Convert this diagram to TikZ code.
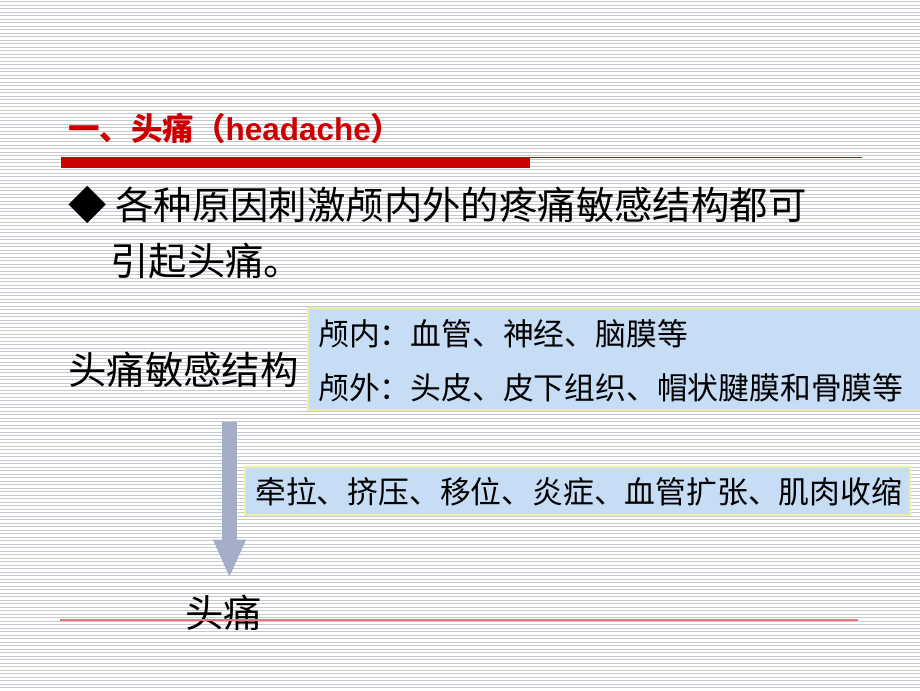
\documentclass[tikz,border=0pt]{standalone}
\usepackage{fontspec}
\setmainfont{Noto Sans CJK SC}
\newfontfamily\latinfont{Liberation Sans}
\usetikzlibrary{arrows.meta}
\definecolor{titlered}{RGB}{204,0,0}
\definecolor{stripegray}{RGB}{198,202,208}
\definecolor{boxblue}{RGB}{198,221,245}
\definecolor{boxedge}{RGB}{238,238,160}
\definecolor{arrowgray}{RGB}{164,174,200}
\definecolor{rulepink}{RGB}{228,120,120}
\newcommand{\bigtext}{\fontsize{28.8pt}{34pt}\selectfont}
\newcommand{\boxtext}{\fontsize{23.1pt}{28pt}\selectfont}

\begin{document}
\begin{tikzpicture}[x=0.75pt, y=-0.75pt,
  stripe/.style={stripegray, line width=0.6pt},
  txt/.style={anchor=base west, inner sep=0pt},
  bluebox/.style={fill=boxblue, draw=boxedge, line width=0.8pt},
  flowarrow/.style={arrowgray, line width=11.25pt, -{Triangle[width=22.5pt,length=29pt]}}]
\useasboundingbox (0,0) rectangle (920,690);
\fill[white] (0,0) rectangle (920,690);
\foreach \y in {1.5,5,...,690} \draw[stripe] (0,\y) -- (920,\y);
% title and rule
\node[txt, titlered] (title) at (68,140) {\fontsize{23.6pt}{28pt}\selectfont\bfseries 一、头痛（{\latinfont\bfseries headache}）};
\fill[titlered] (61,157) rectangle (530,168);
\draw[titlered, line width=0.9pt] (530,157.5) -- (862,157.5);
% bullet text
\node[txt] (bullet) at (68,219) {\bigtext ◆};
\node[txt] (line1) at (115,219) {\bigtext 各种原因刺激颅内外的疼痛敏感结构都可};
\node[txt] (line2) at (110,275) {\bigtext 引起头痛。};
\node[txt] (struct) at (68,384) {\bigtext 头痛敏感结构};
% boxes
\draw[bluebox] (308,308) rectangle (921,410);
\node[txt] (inner) at (318,345) {\boxtext 颅内：血管、神经、脑膜等};
\node[txt] (outer) at (318,399) {\boxtext 颅外：头皮、皮下组织、帽状腱膜和骨膜等};
\draw[bluebox] (245,467) rectangle (910,515);
\node[txt] (cause) at (255,503) {\boxtext 牵拉、挤压、移位、炎症、血管扩张、肌肉收缩};
\node[txt] (pain) at (185,627) {\bigtext 头痛};
\draw[rulepink, line width=1.1pt] (60,620) -- (858,620);
\coordinate (arrtop) at (229.5,422);
\draw[flowarrow] (arrtop) -- (arrtop |- pain.north) [shorten >=12];
\end{tikzpicture}
\end{document}
